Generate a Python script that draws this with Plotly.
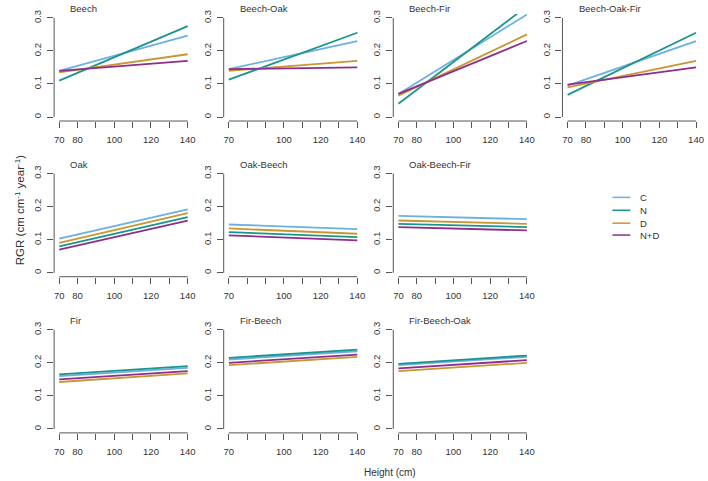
import plotly.graph_objects as go

# ---------------- data ----------------
panel_titles = ["Beech", "Beech-Oak", "Beech-Fir", "Beech-Oak-Fir",
                "Oak", "Oak-Beech", "Oak-Beech-Fir",
                "Fir", "Fir-Beech", "Fir-Beech-Oak"]
panel_rows = [0, 0, 0, 0, 1, 1, 1, 2, 2, 2]
panel_cols = [0, 1, 2, 3, 0, 1, 2, 0, 1, 2]

heights = [70, 140]

series_names = ["C", "N", "D", "N+D"]
series_colors = ["#6CB0E2", "#1A948C", "#C89632", "#8E2D8E"]

# RGR at height 70 and 140 for each panel (same order as panel_titles)
C_70 = [0.140, 0.145, 0.070, 0.095, 0.103, 0.146, 0.172, 0.160, 0.210, 0.193]
C_140 = [0.246, 0.230, 0.310, 0.230, 0.192, 0.132, 0.162, 0.185, 0.235, 0.218]
N_70 = [0.110, 0.113, 0.040, 0.067, 0.080, 0.123, 0.148, 0.165, 0.215, 0.197]
N_140 = [0.275, 0.255, 0.335, 0.255, 0.168, 0.108, 0.138, 0.190, 0.240, 0.222]
D_70 = [0.135, 0.140, 0.065, 0.090, 0.090, 0.134, 0.158, 0.142, 0.193, 0.175]
D_140 = [0.190, 0.170, 0.250, 0.170, 0.180, 0.118, 0.148, 0.168, 0.218, 0.200]
ND_70 = [0.140, 0.145, 0.070, 0.098, 0.070, 0.113, 0.138, 0.150, 0.200, 0.183]
ND_140 = [0.170, 0.150, 0.230, 0.150, 0.158, 0.098, 0.128, 0.175, 0.225, 0.208]

series_start = [C_70, N_70, D_70, ND_70]
series_end = [C_140, N_140, D_140, ND_140]

x_labelled_full = [70, 80, 100, 120, 140]
x_labelled_no80 = [70, 100, 120, 140]
x_all_ticks = [70, 80, 90, 100, 110, 120, 130, 140]
y_tickvals = [0, 0.1, 0.2, 0.3]
y_ticktext = ["0", "0.1", "0.2", "0.3"]

# ---------------- layout geometry ----------------
W, H = 708, 481
col_x70 = [59.5, 229.8, 400.1, 570.0]
row_y03 = [14, 171, 328.5]
xspan = 129.0
ppu_x = xspan / 70.0
ppu_y = 100.0 / 0.3


def px(x):
    return x / W


def py(y):
    return 1 - y / H


AXC = "#555555"
TXC = "#333333"
FONT = "Liberation Sans, Arial, sans-serif"

fig = go.Figure()
layout = dict(
    width=W, height=H, margin=dict(l=0, r=0, t=0, b=0),
    paper_bgcolor="white", plot_bgcolor="white", showlegend=False,
    font=dict(family=FONT, size=9, color=TXC),
)
shapes = []
annotations = []

for i, title in enumerate(panel_titles):
    r, c = panel_rows[i], panel_cols[i]
    n = i + 1
    xs = "" if n == 1 else str(n)
    xleft = col_x70[c] - 2.8 * ppu_x
    xright = col_x70[c] + xspan + 2.8 * ppu_x
    ytop = row_y03[r] - 0.012 * ppu_y
    ybot = row_y03[r] + 100 + 0.012 * ppu_y
    xdom = [px(xleft), px(xright)]
    ydom = [py(ybot), py(ytop)]
    labelled = x_labelled_no80 if c == 1 else x_labelled_full
    minor_vals = [v for v in x_all_ticks if v not in labelled]
    layout["xaxis" + xs] = dict(
        domain=xdom, anchor="y" + xs, range=[67.2, 142.8],
        showgrid=False, zeroline=False, showline=False,
        tickmode="array", tickvals=labelled,
        ticktext=[str(v) for v in labelled],
        ticks="outside", ticklen=6, tickwidth=1, tickcolor=AXC,
        ticklabelstandoff=4, tickfont=dict(size=9.5, color=TXC, family=FONT),
        minor=dict(tickmode="array", tickvals=minor_vals, ticks="outside",
                   ticklen=6, tickwidth=1, tickcolor=AXC, showgrid=False),
    )
    layout["yaxis" + xs] = dict(
        domain=ydom, anchor="x" + xs, range=[-0.012, 0.312],
        showgrid=False, zeroline=False, showline=False,
        tickmode="array", tickvals=y_tickvals, ticktext=y_ticktext,
        ticks="outside", ticklen=6, tickwidth=1, tickcolor=AXC,
        tickangle=-90, ticklabelstandoff=2,
        tickfont=dict(size=9.5, color=TXC, family=FONT),
    )
    # R-style axis lines spanning only first..last tick
    shapes.append(dict(type="line", xref="x" + xs, yref="y" + xs + " domain",
                       x0=70, x1=140, y0=0, y1=0,
                       line=dict(color=AXC, width=1)))
    shapes.append(dict(type="line", xref="x" + xs + " domain", yref="y" + xs,
                       x0=0, x1=0, y0=0, y1=0.3,
                       line=dict(color=AXC, width=1)))
    for s in range(len(series_names)):
        fig.add_trace(go.Scatter(
            x=heights, y=[series_start[s][i], series_end[s][i]],
            mode="lines", name=series_names[s],
            line=dict(color=series_colors[s], width=1.8),
            xaxis="x" + xs, yaxis="y" + xs, hoverinfo="skip",
        ))
    annotations.append(dict(
        text=title, xref="paper", yref="paper",
        x=px(col_x70[c] + 9), y=py(ytop - 5),
        xanchor="left", yanchor="middle", showarrow=False,
        font=dict(size=9.5, color=TXC, family=FONT),
    ))

# axis titles
annotations.append(dict(
    text="RGR (cm cm<sup>-1</sup> year<sup>-1</sup>)", xref="paper", yref="paper",
    x=px(20), y=py(208), textangle=-90, showarrow=False,
    xanchor="center", yanchor="middle",
    font=dict(size=11.5, color=TXC, family=FONT),
))
annotations.append(dict(
    text="Height (cm)", xref="paper", yref="paper",
    x=px(392), y=py(472), showarrow=False,
    xanchor="center", yanchor="middle",
    font=dict(size=10, color=TXC, family=FONT),
))

# legend (drawn manually)
leg_y = [195, 208, 221, 233]
for s, name in enumerate(series_names):
    shapes.append(dict(type="line", xref="paper", yref="paper",
                       x0=px(615), x1=px(633),
                       y0=py(leg_y[s]), y1=py(leg_y[s]),
                       line=dict(color=series_colors[s], width=1.5)))
    annotations.append(dict(
        text=name, xref="paper", yref="paper",
        x=px(641), y=py(leg_y[s]), xanchor="left", yanchor="middle",
        showarrow=False, font=dict(size=9.5, color=TXC, family=FONT),
    ))

layout["shapes"] = shapes
layout["annotations"] = annotations
fig.update_layout(**layout)
fig.write_html(
    "out.html",
    config={"displayModeBar": False},
    post_script="document.body.style.margin='0';document.body.style.overflow='hidden';",
)
